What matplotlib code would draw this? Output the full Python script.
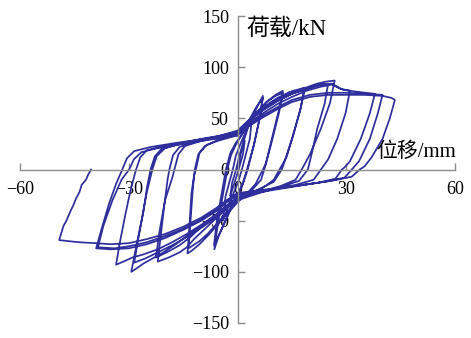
import matplotlib
matplotlib.use("Agg")
import matplotlib.pyplot as plt
import numpy as np

plt.rcParams['font.family'] = ['Liberation Serif', 'Noto Sans CJK SC']

# Hysteresis trace, one list pair per loading level (displacement mm, load kN)
disp_2 = [0, 1.0, 2.0, 1.5, 0.3, -0.6, -1.2, -2.0, -1.5, -0.4]
load_2 = [0, 17, 28, 15, 0, -10, -17, -26, -13, 0]

disp_4 = [-0.4, 0.4, 1.5, 2.8, 4.0, 3.4, 1.2, 0.2, -1.2, -2.6, -4.0, -3.3, -1.3]
load_4 = [0, 12, 26, 40, 52, 30, 0, -12, -24, -36, -50, -26, 0]

disp_7 = [-1.3, -0.5, 0.8, 2.4, 4.2, 5.8, 7.0, 6.2, 4.6, 2.6, 1.4, -0.2, -1.8, -3.6, -5.2, -6.4,
          -5.5, -4.0, -2.8,
          -1.8, -0.5, 1.0, 3.0, 5.0, 7.0, 6.1, 4.5, 2.8, 1.5, 0, -1.6, -3.3, -5.0, -6.5,
          -5.7, -4.2, -3.2]
load_7 = [0, 13, 25, 38, 52, 64, 72, 52, 25, 0, -14, -26, -38, -52, -65, -78,
          -55, -24, 0,
          14, 24, 33, 47, 60, 70, 50, 24, 0, -14, -25, -36, -50, -63, -74,
          -50, -20, 0]

disp_13 = [-3.2, -2.0, -0.5, 1.0, 3.0, 5.5, 8.0, 10.5, 12.5, 11.4, 9.6, 7.8, 7.0, 5.0, 2.5, 0,
           -2.5, -5.0, -8.0, -10.5, -12.5, -13.8, -13.3, -12.7, -12.0, -11.5,
           -10.5, -8.5, -5.5, -2.5, 0, 2.5, 5.0, 8.0, 10.5, 12.5, 11.4, 9.5, 7.8, 6.5, 4.0, 1.0,
           -2.0, -5.0, -8.0, -10.5, -13.5, -13.0, -12.4, -11.8]
load_13 = [0, 16, 26, 33, 44, 56, 66, 73, 77, 58, 32, 6, 0, -14, -24, -32,
           -42, -52, -64, -73, -79, -82, -57, -23, -6, 0,
           16, 24, 28, 31, 34, 43, 55, 66, 72, 75, 55, 28, 5, -10, -20, -27,
           -38, -50, -62, -70, -77, -52, -22, 0]

disp_19 = [-11.8, -10.8, -9.0, -6.0, -3.0, 0, 2.5, 5.0, 8.0, 11.0, 14.5, 18.5,
           17.4, 15.5, 13.5, 11.6, 10.0, 7.0, 3.0, 0, -3.0, -6.0, -9.0, -12.0, -14.0, -16.0,
           -19.0, -22.0,
           -21.2, -20.2, -19.3, -18.8,
           -17.8, -16.0, -12.0, -8.0, -4.0, 0, 3.0, 6.0, 9.5, 13.0, 16.0, 18.5,
           17.3, 15.0, 13.0, 12.2, 10.0, 6.0, 2.0, 0, -3.0, -6.0, -10.0, -13.0, -16.0, -19.0,
           -22.5,
           -21.5, -20.0, -18.0, -17.4]
load_19 = [0, 15, 23, 28, 32, 36, 44, 54, 63, 70, 76, 80,
           60, 35, 12, 0, -10, -18, -24, -29, -38, -48, -58, -68, -76, -81,
           -86, -90,
           -65, -35, -10, 0,
           14, 22, 27, 30, 33, 36, 46, 57, 66, 72, 76, 78,
           58, 30, 8, 0, -12, -19, -25, -28, -37, -46, -56, -66, -74, -80,
           -86,
           -60, -30, -8, 0]

disp_27 = [-17.4, -16.3, -14.5, -10.0, -5.0, 0, 3.0, 6.0, 10.0, 14.0, 18.0, 22.0, 24.5, 26.8,
           25.5, 23.0, 20.0, 17.7, 16.0, 12.0, 6.0, 0, -3.0, -6.0, -10.0, -14.0, -17.0, -20.0,
           -23.0, -26.0, -28.0, -29.3,
           -28.2, -26.5, -25.0, -23.5,
           -22.3, -20.0, -15.0, -10.0, -5.0, 0, 3.0, 7.0, 11.0, 15.0, 20.0, 23.0, 25.0,
           24.0, 22.0, 20.5, 19.4, 17.0, 12.0, 6.0, 0, -3.0, -6.0, -10.0, -14.0, -18.0, -22.0,
           -25.5, -28.5,
           -27.5, -26.0, -25.0, -24.0]
load_27 = [0, 15, 23, 28, 32, 36, 46, 56, 66, 74, 79, 84, 86, 87,
           65, 40, 15, 0, -10, -16, -22, -28, -36, -45, -55, -65, -73, -80,
           -86, -92, -97, -100,
           -80, -50, -22, 0,
           13, 21, 26, 30, 33, 38, 48, 58, 67, 74, 80, 83, 84,
           64, 40, 16, 0, -11, -17, -23, -30, -38, -47, -57, -66, -74, -81,
           -87, -91,
           -70, -42, -18, 0]

disp_31 = [-24.0, -22.8, -21.0, -17.0, -12.0, -6.0, 0, 3.0, 7.0, 11.0, 15.0, 19.0, 23.0, 26.0,
           28.5, 31.0,
           29.8, 27.5, 25.0, 23.0, 21.0, 16.0, 10.0, 5.0, 0, -3.0, -6.0, -10.0, -14.0, -18.0,
           -22.0, -26.0, -29.0, -31.5, -33.5,
           -32.5, -31.0, -29.5, -28.0]
load_31 = [0, 13, 20, 24, 28, 32, 37, 47, 58, 67, 74, 79, 83, 84,
           79, 77,
           55, 30, 10, 0, -10, -15, -19, -23, -27, -35, -44, -54, -63, -71,
           -78, -83, -86, -90, -93,
           -72, -45, -20, 0]

disp_39 = [-28.0, -26.8, -25.0, -20.0, -14.0, -7.0, 0, 3.0, 7.0, 11.0, 15.0, 19.0, 23.0, 26.0,
           29.0, 33.0, 37.9,
           36.5, 34.0, 31.0, 29.5, 28.8, 27.0, 22.0, 15.0, 8.0, 0, -3.0, -6.0, -10.0, -15.0,
           -20.0, -25.0, -30.0, -35.0, -39.0,
           -37.5, -35.5, -33.5, -31.8,
           -30.5, -28.5, -24.0, -17.0, -9.0, 0, 3.0, 7.0, 11.0, 15.0, 20.0, 25.0, 30.0, 35.0, 40.0,
           38.7, 36.5, 33.5, 31.5, 29.5, 24.0, 16.0, 8.0, 0, -3.0, -6.0, -10.0, -15.0, -20.0,
           -25.0, -30.0, -34.0, -38.5,
           -37.0, -34.5, -32.0, -29.9]
load_39 = [0, 12, 19, 23, 27, 31, 36, 45, 55, 64, 71, 77, 81, 83,
           78, 76, 74,
           55, 30, 8, 2, 0, -9, -13, -17, -21, -25, -32, -41, -50, -59,
           -67, -73, -77, -78, -77,
           -58, -34, -14, 0,
           11, 18, 22, 26, 30, 34, 43, 53, 61, 68, 73, 75, 75, 74, 73,
           55, 30, 8, 0, -8, -12, -16, -20, -24, -31, -40, -49, -58, -65,
           -71, -75, -77, -76,
           -55, -30, -10, 0]

disp_49 = [-29.9, -28.6, -26.5, -22.0, -15.0, -8.0, 0, 3.0, 7.0, 11.0, 15.0, 20.0, 25.0, 30.0,
           35.0, 40.0, 42.5, 43.4,
           42.0, 40.0, 37.0, 35.0, 33.7, 31.5, 26.0, 18.0, 9.0, 0, -3.0, -6.0, -10.0, -15.0,
           -20.0, -25.0, -30.0, -35.0, -39.0, -44.0, -49.2,
           -48.0, -47.2, -46.0, -45.3, -44.5, -43.6, -43.0, -41.8, -41.2, -40.4]
load_49 = [0, 10, 17, 21, 25, 29, 33, 42, 51, 59, 66, 71, 73, 73,
           73, 72, 70, 68,
           50, 30, 12, 3, 0, -7, -11, -15, -19, -23, -30, -38, -47, -56,
           -63, -68, -72, -73, -72, -71, -69,
           -55, -50, -40, -35, -28, -22, -15, -10, -5, 0]

levels = [(disp_2, load_2), (disp_4, load_4), (disp_7, load_7), (disp_13, load_13),
          (disp_19, load_19), (disp_27, load_27), (disp_31, load_31),
          (disp_39, load_39), (disp_49, load_49)]

x = np.concatenate([np.asarray(d, float) for d, _ in levels])
y = np.concatenate([np.asarray(f, float) for _, f in levels])

fig = plt.figure(figsize=(4.71, 3.38), dpi=100)
ax = fig.add_axes([0.0425, 0.0444, 0.9236, 0.908])

ax.plot(x, y, color='#2e2e9c', lw=1.25)

ax.set_xlim(-60, 60)
ax.set_ylim(-150, 150)
ax.set_xticks([-60, -30, 0, 30, 60])
ax.set_yticks([-150, -100, -50, 0, 50, 100, 150])

# axes cross at the origin
for side in ['top', 'right']:
    ax.spines[side].set_visible(False)
ax.spines['left'].set_position(('data', 0))
ax.spines['bottom'].set_position(('data', 0))
for side in ['left', 'bottom']:
    ax.spines[side].set_color('#8c8c8c')
    ax.spines[side].set_linewidth(1.0)
ax.tick_params(direction='in', length=5, width=1.0, color='#8c8c8c',
               labelsize=13, pad=6)
ax.tick_params(axis='x', pad=8)

ax.text(2.3, 137, '荷载/kN', fontsize=16.5, ha='left', va='center')
ax.text(38.3, 17, '位移/mm', fontsize=15, ha='left', va='center')

fig.savefig('out.png', dpi=100)
